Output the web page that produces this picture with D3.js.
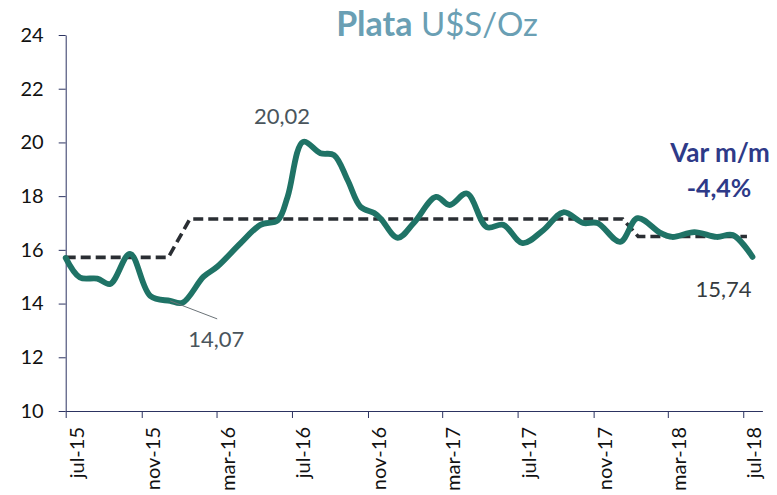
<!DOCTYPE html>
<html>
<head>
<meta charset="utf-8">
<script src="https://cdn.jsdelivr.net/npm/d3@7"></script>
<style>
  html, body { margin: 0; padding: 0; background: #ffffff; }
  svg { display: block; }
</style>
</head>
<body>
<svg id="chart" width="777" height="495"></svg>
<script>
// ---- data ----
const priceDates = [
  "2015-07-01","2015-07-24","2015-08-21","2015-09-11","2015-10-13","2015-11-15",
  "2015-12-17","2016-01-06","2016-02-09","2016-03-02","2016-04-09","2016-05-11",
  "2016-06-08","2016-06-24","2016-07-19","2016-08-16","2016-09-07","2016-09-29",
  "2016-10-20","2016-11-11","2016-11-22","2016-12-19","2017-01-14","2017-02-19",
  "2017-03-13","2017-04-10","2017-05-12","2017-06-08","2017-07-09","2017-08-12",
  "2017-09-13","2017-10-15","2017-11-07","2017-12-14","2018-01-11","2018-02-17",
  "2018-03-08","2018-04-13","2018-05-19","2018-06-14","2018-07-16"
];
const priceValues = [
  15.70, 14.97, 14.93, 14.73, 15.85, 14.28,
  14.10, 14.03, 15.00, 15.37, 16.25, 16.93,
  17.10, 17.98, 20.02, 19.60, 19.53, 18.60,
  17.60, 17.37, 17.15, 16.45, 17.00, 17.97,
  17.67, 18.10, 16.85, 16.93, 16.25, 16.74,
  17.40, 17.00, 17.00, 16.30, 17.18, 16.63,
  16.48, 16.66, 16.48, 16.55, 15.74
];
const avgDates  = ["2015-07-01","2015-12-14","2016-01-18","2017-12-18","2018-01-12","2018-07-07"];
const avgValues = [15.72, 15.72, 17.15, 17.15, 16.50, 16.50];

const tickDates  = ["2015-07-01","2015-11-01","2016-03-01","2016-07-01","2016-11-01",
                    "2017-03-01","2017-07-01","2017-11-01","2018-03-01","2018-07-01"];
const tickLabels = ["jul-15","nov-15","mar-16","jul-16","nov-16",
                    "mar-17","jul-17","nov-17","mar-18","jul-18"];
const yTicks = [10, 12, 14, 16, 18, 20, 22, 24];

// annotated points (index into price series) and their texts
const peakIndex = 14, peakText = "20,02";
const lowIndex = 6, lowText = "14,07";
const lastIndex = priceValues.length - 1, lastText = "15,74";
const titleBold = "Plata", titleRest = " U$S/Oz";
const varTitle = "Var m/m", varValue = "-4,4%";

// ---- drawing ----
const parse = d3.timeParse("%Y-%m-%d");
const svg = d3.select("#chart");
const FONT = "Lato, 'Open Sans', sans-serif";

const x = d3.scaleTime()
  .domain([parse("2015-07-01"), parse("2018-08-01")])
  .range([65.7, 762.4]);
const y = d3.scaleLinear().domain([10, 24]).range([411, 35]);

const price = priceDates.map((d, i) => ({ date: parse(d), value: priceValues[i] }));
const avg = avgDates.map((d, i) => ({ date: parse(d), value: avgValues[i] }));

// axes
const axisColor = "#2c3361";
const yAxis = svg.append("g")
  .attr("transform", `translate(${x.range()[0]},0)`)
  .call(d3.axisLeft(y).tickValues(yTicks).tickSize(7).tickSizeOuter(0).tickPadding(15)
        .tickFormat(d3.format("d")));
yAxis.select(".domain").attr("stroke", axisColor).attr("stroke-width", 1);
yAxis.selectAll(".tick line").attr("stroke", axisColor);
yAxis.selectAll(".tick text")
  .attr("font-family", FONT).attr("font-size", 20).attr("fill", "#111");

const xAxis = svg.append("g")
  .attr("transform", `translate(0,${y.range()[0]})`)
  .call(d3.axisBottom(x).tickValues(tickDates.map(parse)).tickSize(7).tickSizeOuter(0)
        .tickFormat((d, i) => tickLabels[i]));
xAxis.select(".domain").attr("stroke", axisColor).attr("stroke-width", 1);
xAxis.selectAll(".tick line").attr("stroke", axisColor);
xAxis.selectAll(".tick text")
  .attr("font-family", FONT).attr("font-size", 20).attr("fill", "#111")
  .attr("text-anchor", "end")
  .attr("transform", "rotate(-90)")
  .attr("x", -16).attr("y", 17.5).attr("dy", 0);

// average (dashed)
svg.append("path")
  .datum(avg)
  .attr("fill", "none")
  .attr("stroke", "#2a2e33")
  .attr("stroke-width", 3.6)
  .attr("stroke-dasharray", "10,5")
  .attr("d", d3.line().x(d => x(d.date)).y(d => y(d.value)));

// price line
svg.append("path")
  .datum(price)
  .attr("fill", "none")
  .attr("stroke", "#1f7366")
  .attr("stroke-width", 5.8)
  .attr("stroke-linejoin", "round")
  .attr("stroke-linecap", "round")
  .attr("d", d3.line().curve(d3.curveCatmullRom.alpha(0.5))
        .x(d => x(d.date)).y(d => y(d.value)));

// title
const title = svg.append("text")
  .attr("x", 437).attr("y", 36)
  .attr("text-anchor", "middle")
  .attr("font-family", FONT).attr("fill", "#6a9fb4");
title.append("tspan").attr("font-weight", "bold").attr("font-size", 34).text(titleBold);
title.append("tspan").attr("font-size", 33).text(titleRest);

// data labels
const lbl = (px, py, t, color) => svg.append("text")
  .attr("x", px).attr("y", py).attr("text-anchor", "middle")
  .attr("font-family", FONT).attr("font-size", 22).attr("fill", color).text(t);

const pk = price[peakIndex];
lbl(x(pk.date) - 21, y(pk.value) - 18, peakText, "#4a555c");

const lw = price[lowIndex];
svg.append("line")
  .attr("x1", x(lw.date)).attr("y1", y(lw.value))
  .attr("x2", x(lw.date) + 47).attr("y2", y(lw.value) + 18)
  .attr("stroke", "#6b7378").attr("stroke-width", 1);
lbl(x(lw.date) + 46, y(lw.value) + 46, lowText, "#4a555c");

const ls = price[lastIndex];
lbl(x(ls.date) - 29, y(ls.value) + 40, lastText, "#353b40");

// variation annotation
svg.append("text").attr("x", 720).attr("y", 162).attr("text-anchor", "middle")
  .attr("font-family", FONT).attr("font-weight", "bold").attr("font-size", 26)
  .attr("fill", "#2e3a88").text(varTitle);
svg.append("text").attr("x", 719).attr("y", 197).attr("text-anchor", "middle")
  .attr("font-family", FONT).attr("font-weight", "bold").attr("font-size", 25)
  .attr("fill", "#2e3a88").text(varValue);
</script>
</body>
</html>
